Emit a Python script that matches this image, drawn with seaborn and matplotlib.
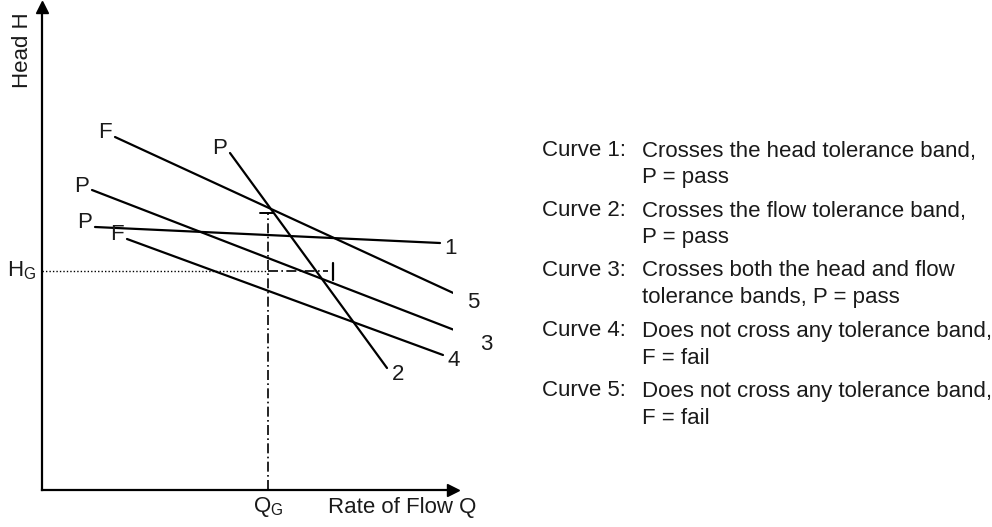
import pandas as pd
import matplotlib.pyplot as plt
import seaborn as sns

# curve end points (Q, H) in arbitrary units
curve_ids = ['1', '2', '3', '4', '5']
q_start = [53, 188, 50, 85, 73]
h_start = [263, 337, 300, 251, 353]
q_end = [398, 345, 433, 401, 420]
h_end = [247, 122, 152, 135, 193]
start_tags = ['P', 'P', 'P', 'F', 'F']

# guarantee point and tolerance marks
q_g = 226
h_g = 219
h_tol_top = 277
q_tol_right = 291

legend_heads = ['Curve 1:', 'Curve 2:', 'Curve 3:', 'Curve 4:', 'Curve 5:']
legend_lines = [
    ['Crosses the head tolerance band,', 'P = pass'],
    ['Crosses the flow tolerance band,', 'P = pass'],
    ['Crosses both the head and flow', 'tolerance bands, P = pass'],
    ['Does not cross any tolerance band,', 'F = fail'],
    ['Does not cross any tolerance band,', 'F = fail'],
]

rows = []
for c, qs, hs, qe, he in zip(curve_ids, q_start, h_start, q_end, h_end):
    rows.append({'curve': c, 'Q': qs, 'H': hs})
    rows.append({'curve': c, 'Q': qe, 'H': he})
df = pd.DataFrame(rows)

sns.set_style('white')
plt.rcParams['font.family'] = ['Liberation Sans', 'DejaVu Sans']
plt.rcParams['mathtext.fontset'] = 'custom'
plt.rcParams['mathtext.rm'] = 'Liberation Sans'

W, H = 992, 527
fig = plt.figure(figsize=(W / 100, H / 100), dpi=100)
ax = fig.add_axes([42 / W, 37 / H, 411 / W, 483 / H])

sns.lineplot(data=df, x='Q', y='H', units='curve', estimator=None, sort=False,
             color='black', lw=1.6, ax=ax, legend=False)

ax.set_xlim(0, 411)
ax.set_ylim(0, 483)
for s in ['top', 'right']:
    ax.spines[s].set_visible(False)
for s in ['left', 'bottom']:
    ax.spines[s].set_color('black')
    ax.spines[s].set_linewidth(1.6)
ax.set_xticks([])
ax.set_yticks([])
ax.set_xlabel('')
ax.set_ylabel('')

# arrow heads
ax.plot(1, 0, '>', color='black', ms=9, transform=ax.transAxes, clip_on=False)
ax.plot(0, 1, '^', color='black', ms=9, transform=ax.transAxes, clip_on=False)

# tolerance lines
ax.plot([q_g, q_g], [0, h_tol_top], color='black', lw=1.2, ls=(0, (6, 2, 1, 2)))
ax.plot([q_g - 8, q_g + 5], [h_tol_top, h_tol_top], color='black', lw=1.4)
ax.plot([0, q_g], [h_g, h_g], color='black', lw=1.0, ls=(0, (1, 1.5)))
ax.plot([q_g, q_tol_right - 5], [h_g, h_g], color='black', lw=1.2, ls=(0, (6, 2, 1, 2)))
ax.plot([q_tol_right, q_tol_right], [h_g - 9, h_g + 8], color='black', lw=1.6)

# curve tags
fs = 16
tc = '#1a1a1a'
for c, qs, hs, qe, he, tag in zip(curve_ids, q_start, h_start, q_end, h_end, start_tags):
    ax.text(qs - 10, hs + 4, tag, fontsize=fs, ha='center', va='center', color=tc)
    ax.text(qe + 11, he - 6, c, fontsize=fs, ha='center', va='center', color=tc)

ax.text(-20, h_g, r'H$_\mathrm{G}$', fontsize=fs, ha='center', va='center', color=tc)
ax.text(q_g, -17, r'Q$_\mathrm{G}$', fontsize=fs, ha='center', va='center', color=tc)
ax.text(286, -17, 'Rate of Flow Q', fontsize=fs, ha='left', va='center', color=tc)
ax.text(-20, 483 - 43, 'Head H', fontsize=fs, rotation=90, ha='center', va='center',
        color=tc)

# explanation text on the right
y = 151
for head, lines in zip(legend_heads, legend_lines):
    fig.text(542 / W, 1 - y / H, head, fontsize=16, ha='left', va='center', color=tc)
    fig.text(642 / W, 1 - y / H, lines[0], fontsize=16, ha='left', va='center', color=tc)
    fig.text(642 / W, 1 - (y + 27) / H, lines[1], fontsize=16, ha='left', va='center',
             color=tc)
    y += 60

fig.savefig('out.png', dpi=100)
